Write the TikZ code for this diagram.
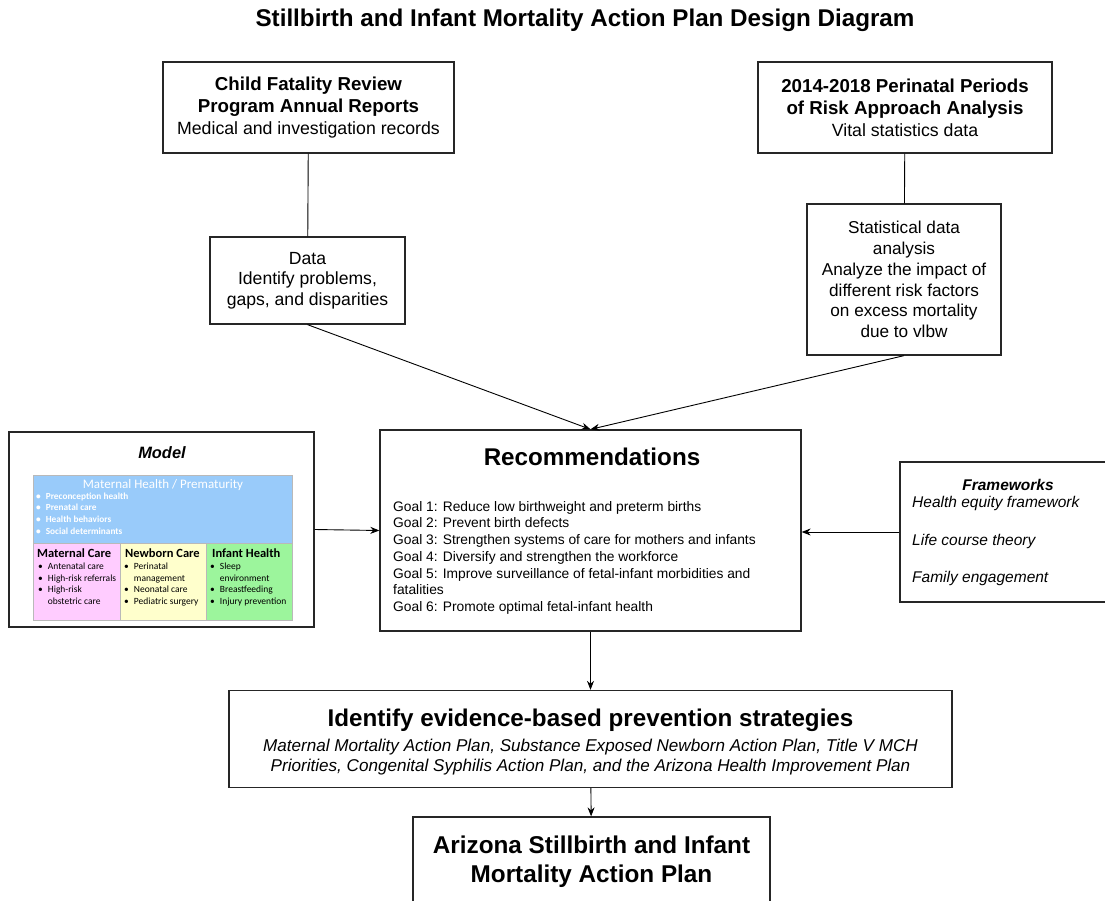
\documentclass[tikz,border=0pt]{standalone}
\usepackage{fontspec}
\setmainfont{Liberation Sans}
\newfontfamily\modelfont{Carlito}
\usetikzlibrary{arrows.meta, positioning}
\definecolor{modelblue}{HTML}{99CBFA}
\definecolor{modelpink}{HTML}{FFCCFF}
\definecolor{modelyellow}{HTML}{FFFFCC}
\definecolor{modelgreen}{HTML}{9CF59C}
\tikzstyle{arrow} = [line width=0.9pt,-{Stealth[length=9pt,width=7pt]}]
\tikzstyle{link} = [line width=0.9pt]
\tikzstyle{box} = [rectangle, draw=black!85, line width=1.3pt, inner sep=0pt, align=center]
\newcommand\fsz[2]{\fontsize{#1}{#2}\selectfont}
\newcommand\itm[1]{\textbullet\hspace{5pt}#1}
\newcommand\cnt[1]{\phantom{\textbullet}\hspace{5pt}#1}
\tikzset{
	modeltext/.style = {font=\modelfont\fsz{9.5}{11.4}, anchor=north west, inner sep=0pt, align=left},
	modelhead/.style = {font=\modelfont\bfseries\fsz{12.5}{14}, anchor=north west, inner sep=0pt},
	cell/.style = {draw=gray!55, line width=0.6pt},
}

\begin{document}
\begin{tikzpicture}[x=1pt, y=-1pt]
\useasboundingbox (0,0) rectangle (1105,901);
% Placement of nodes
\node (title) at (585,20) {\bfseries\fsz{24.2}{28}Stillbirth and Infant Mortality Action Plan Design Diagram};

\node (cfr) [box, minimum width=291pt, minimum height=91pt, font=\fsz{17.7}{22}] at (308.5,107.5)
	{\fsz{18.7}{22}\bfseries Child Fatality Review\\ \fsz{18.7}{22}\bfseries Program Annual Reports\\ Medical and investigation records};
\node (ppor) [box, minimum width=294pt, minimum height=91pt, font=\fsz{17.7}{22}] at (905,107.5)
	{\fsz{18.7}{22}\bfseries 2014-2018 Perinatal Periods\\ \fsz{18.7}{22}\bfseries of Risk Approach Analysis\\ Vital statistics data};

\node (data) [box, minimum width=195pt, minimum height=87pt, font=\fsz{17.6}{20.5}] at (307.5,280.5)
	{Data\\ Identify problems,\\ gaps, and disparities};
\node (stat) [box, minimum width=194pt, minimum height=151pt, font=\fsz{17.2}{20.8}] at (904,279.5)
	{Statistical data\\ analysis\\ Analyze the impact of\\ different risk factors\\ on excess mortality\\ due to vlbw};

% Recommendations box
\node (rec) [box, minimum width=421pt, minimum height=201pt] at (590.5,530.5) {};
\node (rectitle) at (592,457) {\bfseries\fsz{24.2}{28}Recommendations};
\node (goals) [anchor=north west, inner sep=0pt, align=left, font=\fsz{13.8}{16.7}] at (393,501)
	{Goal 1: Reduce low birthweight and preterm births\\
	 Goal 2: Prevent birth defects\\
	 Goal 3: Strengthen systems of care for mothers and infants\\
	 Goal 4: Diversify and strengthen the workforce\\
	 Goal 5: Improve surveillance of fetal-infant morbidities and\\
	 fatalities\\
	 Goal 6: Promote optimal fetal-infant health};

% Model box
\node (model) [box, minimum width=305pt, minimum height=195pt] at (161.5,529.5) {};
\node (modeltitle) at (162,453) {\bfseries\itshape\fsz{16.4}{19}Model};
\fill[modelblue] (33,475) rectangle (292,543);
\fill[modelpink] (33,543) rectangle (120,620);
\fill[modelyellow] (120,543) rectangle (206,620);
\fill[modelgreen] (206,543) rectangle (292,620);
\draw[cell] (33,475) rectangle (292,620) (33,543) -- (292,543)
	(120,543) -- (120,620) (206,543) -- (206,620);
\node (bluehead) [font=\modelfont\fsz{13}{14}, text=white, inner sep=0pt] at (163,485.5) {Maternal Health / Prematurity};
\node (blueitems) [modeltext, text=white, font=\modelfont\bfseries\fsz{9.3}{11.6}] at (36,492.5)
	{\itm{Preconception health}\\ \itm{Prenatal care}\\ \itm{Health behaviors}\\ \itm{Social determinants}};
\node (mathead) [modelhead] at (37,549) {Maternal Care};
\node (newhead) [modelhead] at (125,549) {Newborn Care};
\node (infhead) [modelhead] at (212,549) {Infant Health};
\node (matitems) [modeltext] at (38,563)
	{\itm{Antenatal care}\\ \itm{High-risk referrals}\\ \itm{High-risk}\\ \cnt{obstetric care}};
\node (newitems) [modeltext] at (124,563)
	{\itm{Perinatal}\\ \cnt{management}\\ \itm{Neonatal care}\\ \itm{Pediatric surgery}};
\node (infitems) [modeltext] at (210,563)
	{\itm{Sleep}\\ \cnt{environment}\\ \itm{Breastfeeding}\\ \itm{Injury prevention}};

% Frameworks box
\node (fw) [box, minimum width=215pt, minimum height=140pt] at (1007.5,532) {};
\node (fwtitle) at (1008,485) {\bfseries\itshape\fsz{15.5}{18}Frameworks};
\node (fw1) [anchor=west, inner sep=0pt, font=\itshape\fsz{15.5}{18}] at (912,503) {Health equity framework};
\node (fw2) [anchor=west, inner sep=0pt, font=\itshape\fsz{15.5}{18}] at (912,541) {Life course theory};
\node (fw3) [anchor=west, inner sep=0pt, font=\itshape\fsz{15.5}{18}] at (912,578) {Family engagement};

\node (strat) [box, minimum width=723pt, minimum height=97pt, font=\fsz{17.1}{19}] at (590.5,739)
	{\rule{0pt}{24pt}\bfseries\fsz{24.2}{27}Identify evidence-based prevention strategies\\[6pt]
	 \itshape Maternal Mortality Action Plan, Substance Exposed Newborn Action Plan, Title V MCH\\[0.5pt]
	 \itshape Priorities, Congenital Syphilis Action Plan, and the Arizona Health Improvement Plan};

\node (final) [box, minimum width=357pt, minimum height=90pt, font=\bfseries\fsz{24.3}{29}] at (591.5,862)
	{Arizona Stillbirth and Infant\\ Mortality Action Plan};

% Drawing of lines
\draw [link] (cfr) -- (data);
\draw [link] (ppor) -- (stat);
\draw [arrow] (data.south) -- (rec.north);
\draw [arrow] (stat.south) -- (rec.north);
\draw [arrow] (model.east) -- (rec.west);
\draw [arrow] (fw.west) -- (rec.east |- fw.west);
\draw [arrow] (rec) -- (strat);
\draw [arrow] (strat) -- (final);
\end{tikzpicture}
\end{document}
